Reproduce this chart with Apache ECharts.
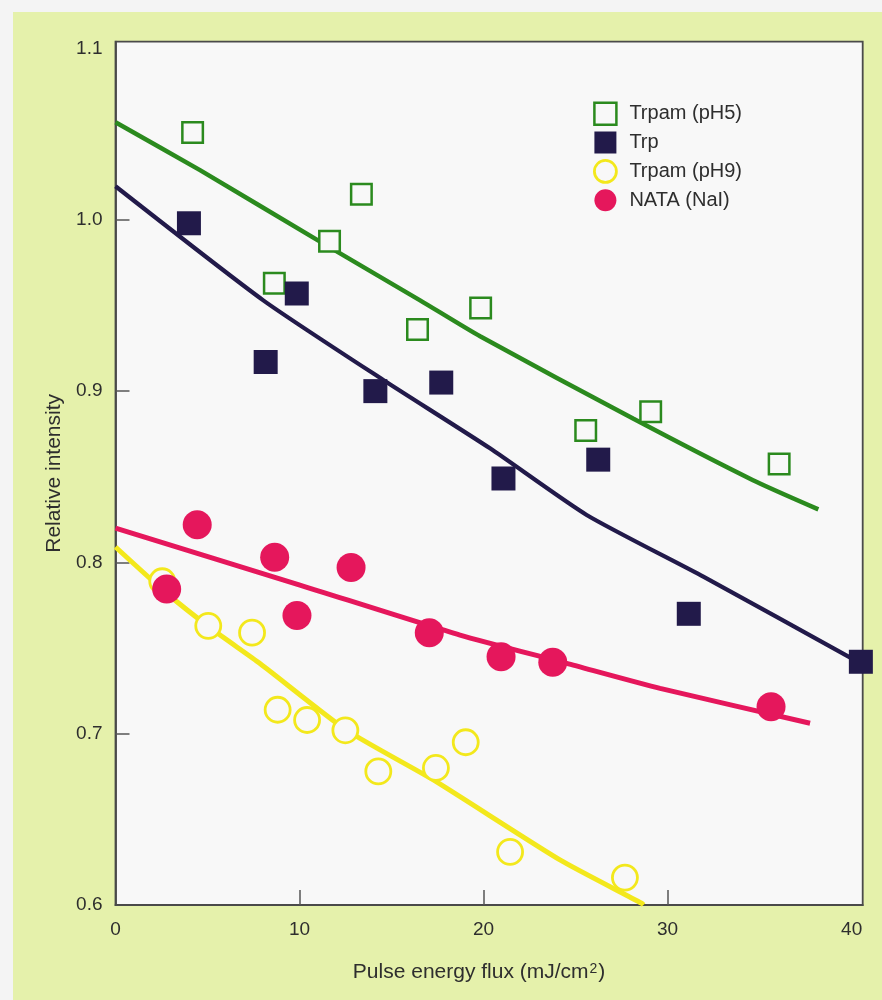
<!DOCTYPE html>
<html>
<head>
<meta charset="utf-8">
<script src="https://cdn.jsdelivr.net/npm/echarts@6/dist/echarts.min.js"></script>
<style>
  html, body { margin: 0; padding: 0; background: #f4f4f4; width: 882px; height: 1000px; overflow: hidden; }
  #chart { position: absolute; left: 13px; top: 12px; width: 869px; height: 988px; }
</style>
</head>
<body>
<div id="chart"></div>
<script>
// ---- Axis tick / label values ----
const xLabelValues = [0, 10, 20, 30, 40];
const xTickValues = [10, 20, 30];
const yLabelValues = [0.6, 0.7, 0.8, 0.9, 1.0, 1.1];
const yTickValues = [0.7, 0.8, 0.9, 1.0];

// ---- Legend names ----
const seriesNames = ['Trpam (pH5)', 'Trp', 'Trpam (pH9)', 'NATA (NaI)'];

// ---- Trpam (pH5): open green squares ----
const pH5X = [4.19, 8.63, 11.63, 13.36, 16.41, 19.84, 25.55, 29.08, 36.06];
const pH5Y = [1.051, 0.963, 0.9875, 1.015, 0.936, 0.9485, 0.877, 0.888, 0.8575];
const pH5FitX = [0, 4.59, 11.0, 16.55, 19.81, 28.12, 34.64, 38.19];
const pH5FitY = [1.057, 1.029, 0.988, 0.953, 0.932, 0.884, 0.848, 0.831];

// ---- Trp: filled navy squares ----
const trpX = [3.99, 8.16, 9.85, 14.12, 17.70, 21.08, 26.23, 31.15, 40.5];
const trpY = [0.998, 0.917, 0.957, 0.900, 0.905, 0.849, 0.860, 0.770, 0.742];
const trpFitX = [0, 8.03, 14.55, 20.35, 25.6, 31.94, 40.0, 40.6];
const trpFitY = [1.0196, 0.953, 0.9065, 0.8666, 0.8277, 0.7917, 0.744, 0.7407];

// ---- Trpam (pH9): open yellow circles ----
const pH9X = [2.54, 5.04, 7.42, 8.81, 10.41, 12.49, 14.28, 17.41, 19.03, 21.44, 27.68];
const pH9Y = [0.789, 0.763, 0.759, 0.714, 0.708, 0.702, 0.678, 0.680, 0.695, 0.631, 0.616];
const pH9FitX = [0, 2.78, 5.31, 7.85, 12.56, 17.27, 24.15, 28.59, 28.69];
const pH9FitY = [0.809, 0.782, 0.7605, 0.741, 0.702, 0.673, 0.6263, 0.601, 0.600];

// ---- NATA (NaI): filled pink circles ----
const nataX = [2.78, 4.44, 8.65, 9.86, 12.80, 17.05, 20.95, 23.76, 35.62];
const nataY = [0.7845, 0.822, 0.803, 0.769, 0.797, 0.759, 0.745, 0.7417, 0.7158];
const nataFitX = [0, 10.02, 18.72, 24.52, 29.59, 37.74];
const nataFitY = [0.820, 0.7868, 0.7576, 0.7411, 0.7265, 0.7061];

// ---- Colours ----
const GREEN = '#2b8a1e';
const NAVY = '#221a4a';
const YELLOW = '#f3e81c';
const PINK = '#e5175c';
const PLOT_BG = '#f8f8f8';
const TEXT = '#2e2e2e';
const FONT = "'Liberation Sans', Arial, Helvetica, sans-serif";

const pairs = (xs, ys) => xs.map((x, i) => [x, ys[i]]);

function fitLine(name, xs, ys, color, width) {
  return {
    name: name, type: 'line', data: pairs(xs, ys),
    symbol: 'none', showSymbol: false, smooth: 0.2, silent: true, z: 2,
    lineStyle: { color: color, width: width, cap: 'butt' },
    emphasis: { disabled: true }
  };
}

const chart = echarts.init(document.getElementById('chart'));
chart.setOption({
  animation: false,
  backgroundColor: '#e5f1ab',
  textStyle: { fontFamily: FONT },
  grid: {
    left: 102.5, top: 29.7, width: 747.2, height: 863.3,
    show: true, backgroundColor: PLOT_BG, borderColor: '#4a4a4a', borderWidth: 1.8
  },
  legend: {
    orient: 'vertical', left: 580, top: 89.5, padding: 0,
    itemWidth: 22, itemHeight: 22, itemGap: 5.5,
    textStyle: { fontSize: 20, color: TEXT, fontFamily: FONT, padding: [0, 0, 0, 8] },
    data: [
      { name: seriesNames[0], icon: 'rect', itemStyle: { color: PLOT_BG, borderColor: GREEN, borderWidth: 2.5 } },
      { name: seriesNames[1], icon: 'rect', itemStyle: { color: NAVY, borderWidth: 0 } },
      { name: seriesNames[2], icon: 'circle', itemStyle: { color: PLOT_BG, borderColor: YELLOW, borderWidth: 2.8 } },
      { name: seriesNames[3], icon: 'circle', itemStyle: { color: PINK, borderWidth: 0 } }
    ]
  },
  xAxis: {
    type: 'value', min: 0, max: 40.6,
    name: '{a|Pulse energy flux (mJ/cm}{s|2}{a|)}',
    nameLocation: 'middle', nameGap: 57,
    nameTextStyle: {
      color: TEXT, fontSize: 21, fontFamily: FONT, padding: [0, 20, 0, 0],
      rich: {
        a: { fontSize: 21, color: TEXT, fontFamily: FONT },
        s: { fontSize: 14, color: TEXT, fontFamily: FONT, verticalAlign: 'top', padding: [0, 1, 0, 1] }
      }
    },
    axisLine: { show: true, lineStyle: { color: '#4a4a4a', width: 1.8 } },
    axisTick: { show: true, inside: true, length: 15, customValues: xTickValues, lineStyle: { color: '#555', width: 1.5 } },
    axisLabel: { customValues: xLabelValues, fontSize: 19, color: TEXT, margin: 15, fontFamily: FONT },
    splitLine: { show: false }
  },
  yAxis: {
    type: 'value', min: 0.6, max: 1.104,
    name: 'Relative intensity',
    nameLocation: 'middle', nameGap: 51,
    nameTextStyle: { color: TEXT, fontSize: 21, fontFamily: FONT },
    axisLine: { show: true, lineStyle: { color: '#4a4a4a', width: 1.8 } },
    axisTick: { show: true, inside: true, length: 14, customValues: yTickValues, lineStyle: { color: '#555', width: 1.5 } },
    axisLabel: {
      customValues: yLabelValues, fontSize: 19, color: TEXT, margin: 13, fontFamily: FONT,
      formatter: v => Number(v).toFixed(1)
    },
    splitLine: { show: false }
  },
  series: [
    fitLine('fit pH5', pH5FitX, pH5FitY, GREEN, 4.5),
    fitLine('fit Trp', trpFitX, trpFitY, NAVY, 4.2),
    fitLine('fit pH9', pH9FitX, pH9FitY, YELLOW, 5),
    fitLine('fit NATA', nataFitX, nataFitY, PINK, 5),
    {
      name: seriesNames[0], type: 'scatter', data: pairs(pH5X, pH5Y), z: 4,
      symbol: 'rect', symbolSize: 20.5,
      itemStyle: { color: PLOT_BG, borderColor: GREEN, borderWidth: 2.5, opacity: 1 }
    },
    {
      name: seriesNames[2], type: 'scatter', data: pairs(pH9X, pH9Y), z: 4,
      symbol: 'circle', symbolSize: 25,
      itemStyle: { color: PLOT_BG, borderColor: YELLOW, borderWidth: 2.8, opacity: 1 }
    },
    {
      name: seriesNames[1], type: 'scatter', data: pairs(trpX, trpY), z: 4,
      symbol: 'rect', symbolSize: 24,
      itemStyle: { color: NAVY, opacity: 1 }
    },
    {
      name: seriesNames[3], type: 'scatter', data: pairs(nataX, nataY), z: 4,
      symbol: 'circle', symbolSize: 29,
      itemStyle: { color: PINK, opacity: 1 }
    }
  ]
});
</script>
</body>
</html>
